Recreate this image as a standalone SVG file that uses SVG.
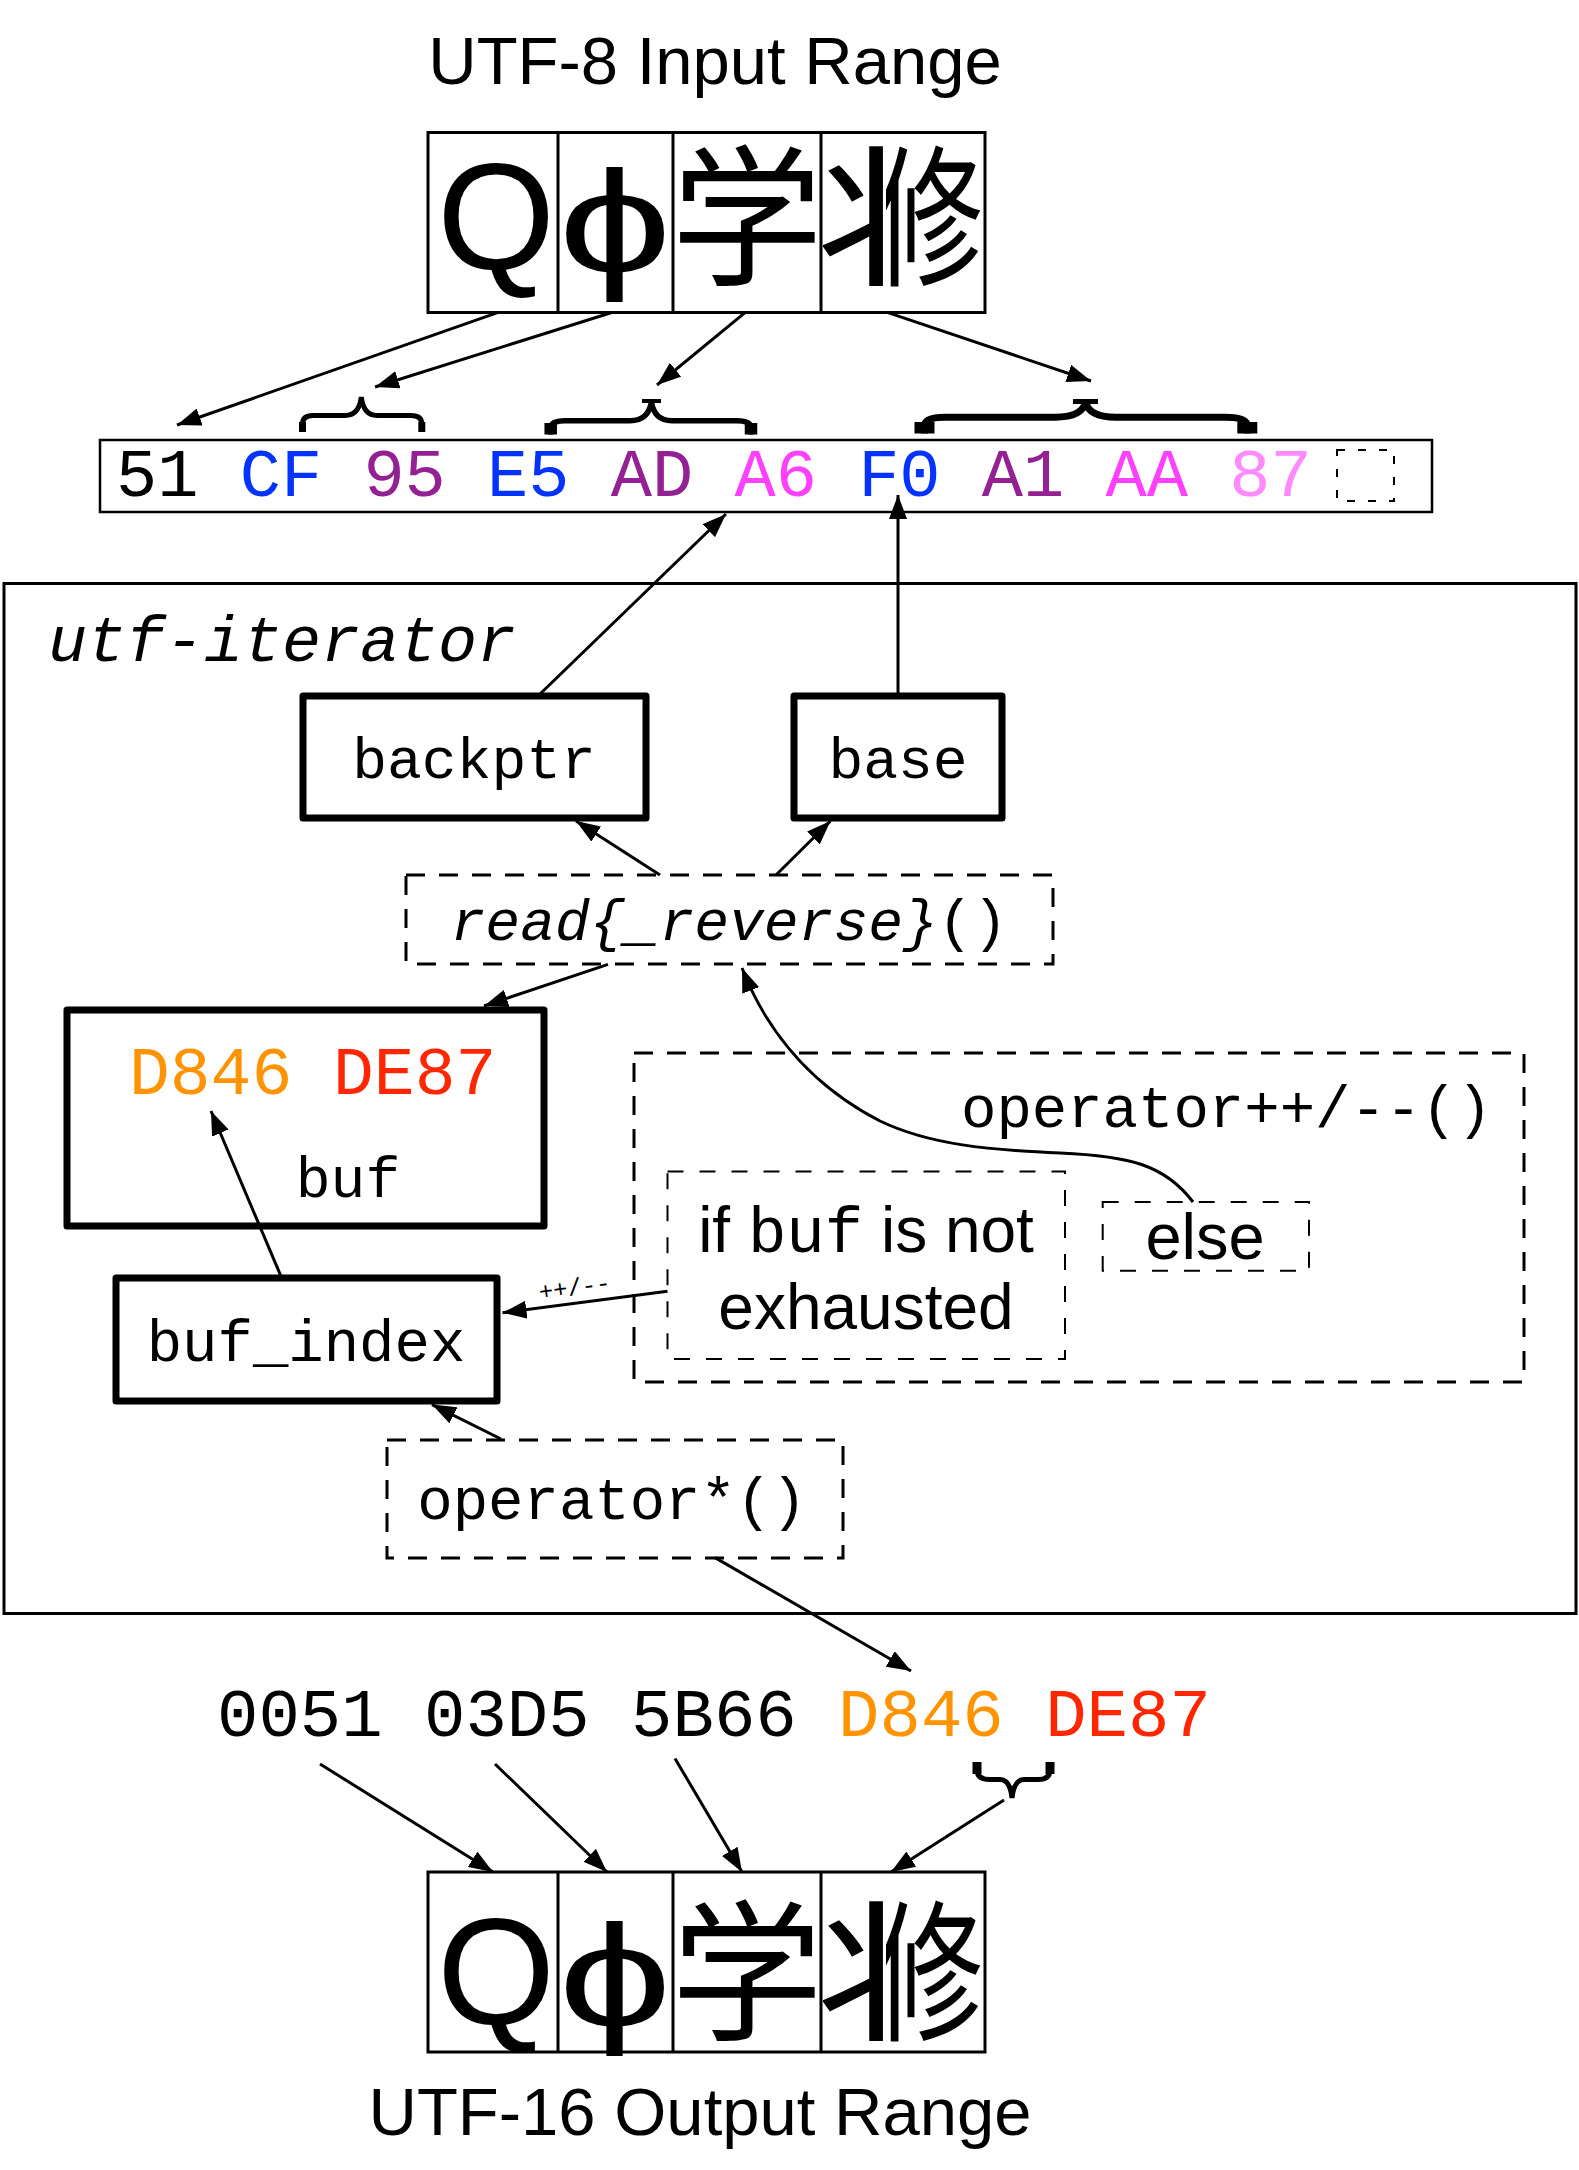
<svg xmlns="http://www.w3.org/2000/svg" width="1579" height="2170" viewBox="0 0 1579 2170">
<defs>
<style>
.sans{font-family:"Liberation Sans","DejaVu Sans",sans-serif;}
.mono{font-family:"Liberation Mono","DejaVu Sans Mono",monospace;}
.cjk{font-family:"Noto Sans CJK SC","Noto Sans CJK TC","Noto Sans CJK JP","Noto Sans CJK KR",sans-serif;}
.box{fill:none;stroke:#000;stroke-width:3;}
.thick{fill:none;stroke:#000;stroke-width:7;stroke-linejoin:round;}
.dash{fill:none;stroke:#000;stroke-width:3;stroke-dasharray:19 14;}
.tdash{fill:none;stroke:#000;stroke-width:2;stroke-dasharray:16 16;}
.conn{fill:none;stroke:#000;stroke-width:3;marker-end:url(#ah);}
.brace{fill:none;stroke:#000;}
.blue{fill:#0433FF;}.purple{fill:#942193;}.mag{fill:#FF40FF;}.pink{fill:#FF8AFF;}
.orange{fill:#FF9300;}.red{fill:#FF2600;}
</style>
<marker id="ah" markerUnits="userSpaceOnUse" markerWidth="26" markerHeight="18" refX="24" refY="9" orient="auto"><path d="M0,0 L24,9 L0,18 z" fill="#000"/></marker>
<clipPath id="cLt"><rect x="823" y="130" width="63" height="185"/></clipPath>
<clipPath id="cRt"><rect x="886" y="130" width="98" height="185"/></clipPath>
<clipPath id="cLb"><rect x="823" y="1870" width="63" height="185"/></clipPath>
<clipPath id="cRb"><rect x="886" y="1870" width="98" height="185"/></clipPath>
</defs>
<rect x="0" y="0" width="1579" height="2170" fill="#fff"/>

<g id="title-utf8"><text class="sans" x="715" y="84" font-size="67" text-anchor="middle">UTF-8 Input Range</text></g>

<g id="input-chars">
<rect class="box" x="428" y="132.5" width="557" height="180"/>
<path class="box" d="M558,132.5 V312.5 M673,132.5 V312.5 M821,132.5 V312.5"/>
<text class="sans" x="496" y="269" font-size="152" text-anchor="middle">Q</text>
<text class="sans" transform="translate(615,272) scale(1.4,1)" x="0" y="0" font-size="145" text-anchor="middle">ϕ</text>
<text class="cjk" x="747" y="274" font-size="152" text-anchor="middle">学</text>
<g clip-path="url(#cLt)"><text class="cjk" transform="translate(870,274) scale(1.2,1)" x="0" y="0" font-size="152" text-anchor="middle">丬</text></g>
<g clip-path="url(#cRt)"><text class="cjk" transform="translate(874,274) scale(0.72,1)" x="0" y="0" font-size="152">修</text></g>
</g>

<g id="bytes">
<rect x="100" y="440" width="1332" height="72" fill="none" stroke="#000" stroke-width="2.5"/>
<text class="mono" x="116" y="496" font-size="68.7"><tspan>51</tspan> <tspan class="blue">CF</tspan> <tspan class="purple">95</tspan> <tspan class="blue">E5</tspan> <tspan class="purple">AD</tspan> <tspan class="mag">A6</tspan> <tspan class="blue">F0</tspan> <tspan class="purple">A1</tspan> <tspan class="mag">AA</tspan> <tspan class="pink">87</tspan></text>
<rect x="1337" y="450" width="57" height="51" fill="none" stroke="#000" stroke-width="2" stroke-dasharray="8 13"/>
</g>

<g id="braces-utf8">
<path class="brace" stroke-width="5" d="M302.5,432 V424 Q302.5,415.5 313,415.5 H345 Q359,415.5 361.3,397 Q363.6,415.5 377,415.5 H411 Q421.8,415.5 421.8,424 V432"/>
<path class="brace" stroke-width="7" d="M302.5,422 V432 M421.8,422 V432"/>
<path class="brace" stroke-width="5.5" d="M550.7,434.6 V428 Q550.7,420.7 565,420.7 H630 Q649,420.7 651.4,401 Q653.8,420.7 672,420.7 H737 Q751,420.7 751,428 V434.6"/>
<path class="brace" stroke-width="12.5" d="M550.7,423 V434.6 M751,423 V434.6"/>
<path class="brace" stroke-width="4" d="M642,401 H661"/>
<path class="brace" stroke-width="7" d="M924.5,433.5 V426 Q924.5,417.2 945,417.2 H1055 Q1082,417.2 1085.6,402 Q1089,417.2 1116,417.2 H1225 Q1247.3,417.2 1247.3,426 V433.5"/>
<path class="brace" stroke-width="20" d="M924.5,422 V433.5 M1247.3,422 V433.5"/>
<path class="brace" stroke-width="5" d="M1073,401.5 H1098"/>
</g>

<g id="utf-iterator">
<rect class="box" x="4" y="583.5" width="1572" height="1030"/>
<text class="mono" x="48" y="661" font-size="65" font-style="italic">utf-iterator</text>
</g>

<g id="backptr">
<rect class="thick" x="303" y="696" width="343" height="122"/>
<text class="mono" x="474" y="778" font-size="58" text-anchor="middle">backptr</text>
</g>

<g id="base">
<rect class="thick" x="794" y="696" width="208" height="122"/>
<text class="mono" x="898" y="778" font-size="58" text-anchor="middle">base</text>
</g>

<g id="read">
<rect class="dash" x="406" y="875" width="647" height="89"/>
<text class="mono" x="729" y="939.5" font-size="58" text-anchor="middle"><tspan font-style="italic">read{_reverse}</tspan>()</text>
</g>

<g id="buf">
<rect class="thick" x="67" y="1010" width="477" height="216"/>
<text class="mono" x="129" y="1094" font-size="68"><tspan class="orange">D846</tspan> <tspan class="red">DE87</tspan></text>
<text class="mono" x="348" y="1197" font-size="58" text-anchor="middle">buf</text>
</g>

<g id="buf_index">
<rect class="thick" x="116" y="1278" width="381" height="123"/>
<text class="mono" x="306" y="1361" font-size="59" text-anchor="middle">buf_index</text>
</g>

<g id="operator-incdec">
<rect class="dash" x="634" y="1053" width="890" height="329" stroke-width="3.5"/>
<text class="mono" x="961" y="1127" font-size="59">operator++/--()</text>
</g>

<g id="if-not-exhausted">
<rect class="tdash" x="667.5" y="1171.5" width="397.5" height="187.4"/>
<text class="sans" x="866" y="1251.5" font-size="64" text-anchor="middle">if <tspan class="mono">buf</tspan> is not</text>
<text class="sans" x="866" y="1328.5" font-size="64" text-anchor="middle">exhausted</text>
</g>

<g id="else">
<rect class="tdash" x="1102.7" y="1202" width="206.3" height="68.7"/>
<text class="sans" x="1205" y="1258.6" font-size="65" text-anchor="middle">else</text>
</g>

<g id="operator-deref">
<rect class="dash" x="387" y="1440" width="456" height="118"/>
<text class="mono" x="612" y="1519" font-size="59" text-anchor="middle">operator*()</text>
</g>

<g id="utf16-units">
<text class="mono" x="217" y="1736" font-size="69">0051 03D5 5B66 <tspan class="orange">D846</tspan> <tspan class="red">DE87</tspan></text>
<path class="brace" stroke-width="5" d="M977,1762 V1770 Q977,1779.6 990,1779.6 H1000 Q1010,1779.6 1012,1798 Q1014,1779.6 1024,1779.6 H1038 Q1050,1779.6 1050,1770 V1762"/>
<path class="brace" stroke-width="9" d="M977,1762 V1774 M1050,1762 V1774"/>
</g>

<g id="output-chars">
<rect class="box" x="428" y="1872" width="557" height="180"/>
<path class="box" d="M558,1872 V2052 M673,1872 V2052 M821,1872 V2052"/>
<text class="sans" x="496" y="2024" font-size="152" text-anchor="middle">Q</text>
<text class="sans" transform="translate(615,2026) scale(1.4,1)" x="0" y="0" font-size="145" text-anchor="middle">ϕ</text>
<text class="cjk" x="747" y="2029" font-size="152" text-anchor="middle">学</text>
<g clip-path="url(#cLb)"><text class="cjk" transform="translate(870,2029) scale(1.2,1)" x="0" y="0" font-size="152" text-anchor="middle">丬</text></g>
<g clip-path="url(#cRb)"><text class="cjk" transform="translate(874,2029) scale(0.72,1)" x="0" y="0" font-size="152">修</text></g>
</g>

<g id="title-utf16"><text class="sans" x="700" y="2135" font-size="67" text-anchor="middle">UTF-16 Output Range</text></g>

<g id="connectors">
<path class="conn" d="M497.5,312.7 L177,425"/>
<path class="conn" d="M611,312.7 L375,387"/>
<path class="conn" d="M745,312.7 L657,385"/>
<path class="conn" d="M888,312.7 L1091,381"/>
<path class="conn" d="M539,695 L726,514"/>
<path class="conn" d="M898,695 L898,495"/>
<path class="conn" d="M660,875 L576,821"/>
<path class="conn" d="M776,875 L830.5,821"/>
<path class="conn" d="M608,964.4 L484,1006"/>
<path class="conn" d="M1193,1202 C1165,1165 1130,1156 1060,1153 C990,1150 930,1145 880,1121 C820,1090 770,1040 742,968"/>
<path class="conn" d="M667.5,1291.3 L502.5,1312.8"/>
<text class="mono" x="540" y="1300" font-size="24" transform="rotate(-8 540 1300)">++/--</text>
<path class="conn" stroke-width="2.5" d="M281.7,1278 L211,1111"/>
<path class="conn" d="M501,1439 L432,1404.6"/>
<path class="conn" d="M715,1557.6 L911,1671"/>
<path class="conn" d="M320,1764 L493,1872"/>
<path class="conn" d="M495,1764 L607,1872"/>
<path class="conn" d="M675,1758.5 L742,1872"/>
<path class="conn" d="M1004,1800 L891,1872"/>
</g>
</svg>
